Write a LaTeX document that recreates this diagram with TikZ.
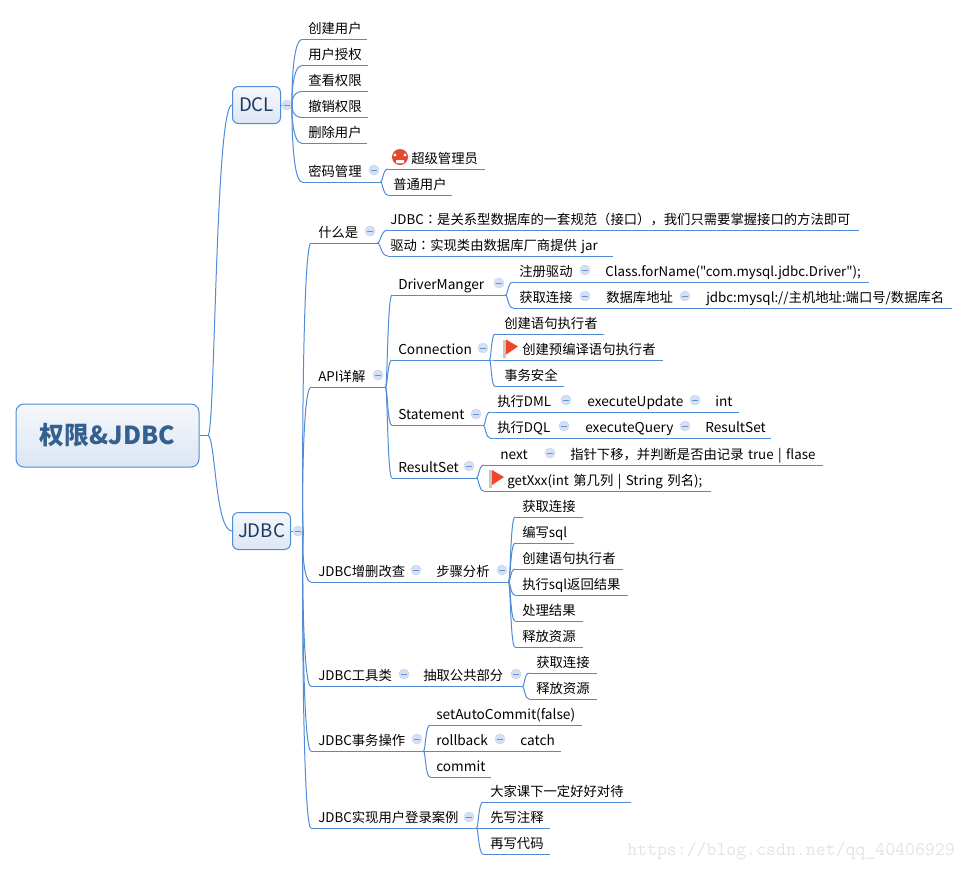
\documentclass[tikz,border=0pt]{standalone}
\usepackage{fontspec}
\setmainfont{Noto Sans CJK SC}
\newfontfamily\tcfont{Noto Sans CJK TC}
\newfontfamily\plainfont{Noto Sans CJK SC}
\usetikzlibrary{positioning, calc}
\newlength{\pxu}
\setlength{\pxu}{0.75pt}
\definecolor{linkblue}{HTML}{4F8BD6}
\definecolor{boxtop}{HTML}{F6F8FC}
\definecolor{boxbot}{HTML}{DCE6F2}
\definecolor{dotfill}{HTML}{D3E0F6}
\definecolor{dotline}{HTML}{6F8FC8}
\definecolor{roottext}{HTML}{34608F}
\definecolor{branchtext}{HTML}{1F3B63}
\definecolor{flagred}{HTML}{F0452B}
\definecolor{angryred}{HTML}{E04A2F}
\definecolor{marktext}{HTML}{E4E4DE}
\tikzset{
  link/.style={draw=linkblue, line width=0.75pt},
  fork/.style={to path={let \p1=(\tikztostart), \p2=(\tikztotarget) in
    .. controls ({\x1*.7+\x2*.3},\y1) and ({\x1*.7+\x2*.3},\y2) .. (\p2)}},
  topic/.style 2 args={anchor=south west, inner sep=0pt, text width=#1\pxu, align=left,
    text height=9pt, text depth=4.2pt, font=\fontsize{10}{12}\selectfont,
    execute at begin node={\hspace*{#2\pxu}},
    append after command={(\tikzlastnode.south west) edge[link] (\tikzlastnode.south east)}},
  latin/.style={font=\fontsize{10.25}{12}\selectfont},
  branch/.style 2 args={draw=linkblue, line width=0.75pt, rounded corners=4.5pt, top color=boxtop,
    bottom color=boxbot, text=#2, minimum width=#1\pxu, minimum height=37\pxu, inner sep=0pt,
    font=\fontsize{14}{16}\selectfont},
  dot/.style={circle, draw=dotfill!85!dotline, fill=dotfill, line width=0.4pt, minimum size=10\pxu,
    inner sep=0pt, path picture={\draw[dotline, line width=0.5pt] ([xshift=-2.2pt]path picture bounding box.center)
      -- ([xshift=2.2pt]path picture bounding box.center);}},
}
\newcommand{\redflag}[2]{%
  \fill[gray!45] (#1,#2-8) rectangle (#1+3,#2+10);
  \fill[flagred] (#1+3,#2-8) -- (#1+15,#2-1) -- (#1+3,#2+7) -- cycle;}
\begin{document}
\begin{tikzpicture}[x=0.75pt, y=-0.75pt]
  \useasboundingbox (0,0) rectangle (967,871);
  % central topic and the two branches
  \node[branch={183}{roottext}, minimum height=63\pxu, rounded corners=6pt,
    font=\fontsize{18.6}{20}\selectfont\bfseries] (root) at (107.5,435.5) {权限\&JDBC};
  \coordinate (f0) at (208,435.5);
  \node[branch={48}{branchtext}] (dcl) at (256.5,105) {DCL};
  \node[branch={58}{branchtext}] (jdbc) at (261.5,531) {JDBC};
  \node[dot] (o0) at (287,105) {};
  \node[dot] (o1) at (298,531) {};
  \path[link] (root) edge (f0)
    (f0) edge[fork] (dcl.west)
    (f0) edge[fork] (jdbc.west)
    (dcl) edge (o0)
    (jdbc) edge (o1);

  % DCL
  \node[topic={64}{6}] (d1) at (302,39.5) {创建用户};
  \node[topic={65}{6}] (d2) at (302,65.5) {用户授权};
  \node[topic={65}{6}] (d3) at (302,91.5) {查看权限};
  \node[topic={65}{6}] (d4) at (302,117.5) {撤销权限};
  \node[topic={64}{6}] (d5) at (302,143.5) {删除用户};
  \node[topic={78}{6}] (d6) at (302,182) {密码管理};
  \node[dot] (o2) at (374,170) {};
  \node[topic={96}{23}] (m1) at (388,169) {超级管理员};
  \node[topic={63}{5}] (m2) at (388,195) {普通用户};
  \fill[angryred] (400,157) circle (8);
  \fill[white] (395,155) circle (1.6) (405,155) circle (1.6) (396,160) rectangle (404,163);
  \path[link] (o0) edge[fork] (d1.south west)
    (o0) edge[fork] (d2.south west)
    (o0) edge[fork] (d3.south west)
    (o0) edge[fork] (d4.south west)
    (o0) edge[fork] (d5.south west)
    (o0) edge[fork] (d6.south west)
    (d6.south east) edge[fork] (m1.south west)
    (d6.south east) edge[fork] (m2.south west);

  % JDBC: what it is
  \node[topic={66}{7}] (w) at (311,243) {什么是};
  \node[dot] (o3) at (370,231) {};
  \node[topic={470}{2}] (w1) at (388,230) {JDBC{\tcfont ：}是关系型数据库的一套规范（接口），我们只需要掌握接口的方法即可};
  \node[topic={224}{2}] (w2) at (388,256) {驱动{\tcfont ：}实现类由数据库厂商提供 jar};
  \path[link] (o1) edge[fork] (w.south west)
    (w.south east) edge[fork] (w1.south west)
    (w.south east) edge[fork] (w2.south west);

  % JDBC: API
  \node[topic={74}{7}] (api) at (311,387) {API详解};
  \node[dot] (o4) at (378,375) {};
  \node[topic={113}{6}, latin] (dm) at (392,295) {DriverManger};
  \node[dot] (o5) at (499,283) {};
  \node[topic={79}{6}] (r1) at (513,282) {注册驱动};
  \node[dot] (o6) at (585,270) {};
  \node[topic={268}{5}] (r1a) at (600,282) {{\plainfont Class.forName("com.mysql.jdbc.Driver");}};
  \node[topic={79}{6}] (r2) at (513,308) {获取连接};
  \node[dot] (o7) at (585,296) {};
  \node[topic={92}{6}] (r2a) at (600,308) {数据库地址};
  \node[dot] (o8) at (685,296) {};
  \node[topic={251}{6}] (r2b) at (700,308) {jdbc:mysql://主机地址:端口号/数据库名};
  \node[topic={97}{6}, latin] (cn) at (392,360) {Connection};
  \node[dot] (o9) at (483,348) {};
  \node[topic={108}{9}] (c1) at (495,334) {创建语句执行者};
  \node[topic={167}{27}] (c2) at (495,360) {创建预编译语句执行者};
  \node[topic={68}{9}] (c3) at (495,386.5) {事务安全};
  \redflag{503}{347.5}
  \node[topic={91}{6}, latin] (st) at (392,425.5) {Statement};
  \node[dot] (o10) at (476,414) {};
  \node[topic={83}{7}] (s1) at (490,412) {执行DML};
  \node[dot] (o11) at (566,400) {};
  \node[topic={122}{7}, latin] (s1a) at (580,412) {executeUpdate};
  \node[dot] (o12) at (695,400) {};
  \node[topic={29}{6}, latin] (s1b) at (709,412) {int};
  \node[topic={81}{7}] (s2) at (490,438) {执行DQL};
  \node[dot] (o13) at (564,426) {};
  \node[topic={114}{7}, latin] (s2a) at (578,438) {executeQuery};
  \node[dot] (o14) at (685,426) {};
  \node[topic={71}{6}, latin] (s2b) at (699,438) {ResultSet};
  \node[topic={84}{6}, latin] (rs) at (392,478) {ResultSet};
  \node[dot] (o15) at (469,466) {};
  \node[topic={73}{16}, latin] (n1) at (484,465) {next};
  \node[dot] (o16) at (550,453) {};
  \node[topic={258}{6}] (n1a) at (564,465) {指针下移，并判断是否由记录 true | flase};
  \node[topic={226}{23}] (n2) at (484,491) {getXxx(int 第几列 | String 列名);};
  \redflag{489}{478}
  \path[link] (o1) edge[fork] (api.south west)
    (api.south east) edge[fork] (dm.south west)
    (api.south east) edge[fork] (cn.south west)
    (api.south east) edge[fork] (st.south west)
    (api.south east) edge[fork] (rs.south west)
    (dm.south east) edge[fork] (r1.south west)
    (dm.south east) edge[fork] (r2.south west)
    (r1.south east) edge (r1a.south west)
    (r2.south east) edge (r2a.south west)
    (r2a.south east) edge (r2b.south west)
    (cn.south east) edge[fork] (c1.south west)
    (cn.south east) edge[fork] (c2.south west)
    (cn.south east) edge[fork] (c3.south west)
    (st.south east) edge[fork] (s1.south west)
    (st.south east) edge[fork] (s2.south west)
    (s1.south east) edge (s1a.south west)
    (s1a.south east) edge (s1b.south west)
    (s2.south east) edge (s2a.south west)
    (s2a.south east) edge (s2b.south west)
    (rs.south east) edge[fork] (n1.south west)
    (rs.south east) edge[fork] (n2.south west)
    (n1.south east) edge (n1a.south west);

  % JDBC: the lower four
  \node[topic={112}{7}] (zs) at (311,582) {JDBC增删改查};
  \node[dot] (o17) at (416,570) {};
  \node[topic={78}{6}] (zs1) at (430,582) {步骤分析};
  \node[dot] (o18) at (502,570) {};
  \node[topic={67}{7}] (h1) at (515,517) {获取连接};
  \node[topic={58}{7}] (h2) at (515,543) {编写sql};
  \node[topic={107}{7}] (h3) at (515,569) {创建语句执行者};
  \node[topic={112}{7}] (h4) at (515,595) {执行sql返回结果};
  \node[topic={67}{7}] (h5) at (515,621) {处理结果};
  \node[topic={67}{7}] (h6) at (515,647) {释放资源};
  \node[topic={98}{7}] (gj) at (311,686.5) {JDBC工具类};
  \node[dot] (o19) at (404,674) {};
  \node[topic={105}{6}] (gj1) at (417,686.5) {抽取公共部分};
  \node[dot] (o20) at (516,674) {};
  \node[topic={67}{7}] (g1) at (529,673) {获取连接};
  \node[topic={67}{7}] (g2) at (529,699) {释放资源};
  \node[topic={112}{7}] (sw) at (311,751) {JDBC事务操作};
  \node[dot] (o21) at (417,739) {};
  \node[topic={151}{6}, latin] (t1) at (430,725) {setAutoCommit(false)};
  \node[topic={77}{6}, latin] (t2) at (430,751) {rollback};
  \node[dot] (o22) at (500,739) {};
  \node[topic={46}{6}, latin] (t2a) at (514,751) {catch};
  \node[topic={60}{6}, latin] (t3) at (430,777) {commit};
  \node[topic={165}{7}] (dl) at (311,828) {JDBC实现用户登录案例};
  \node[dot] (o23) at (469,817) {};
  \node[topic={147}{7}] (l1) at (483,802) {大家课下一定好好对待};
  \node[topic={66}{7}] (l2) at (483,828) {先写注释};
  \node[topic={66}{7}] (l3) at (483,854) {再写代码};
  \path[link] (o1) edge[fork] (zs.south west)
    (zs.south east) edge (zs1.south west)
    (zs1.south east) edge[fork] (h1.south west)
    (zs1.south east) edge[fork] (h2.south west)
    (zs1.south east) edge[fork] (h3.south west)
    (zs1.south east) edge[fork] (h4.south west)
    (zs1.south east) edge[fork] (h5.south west)
    (zs1.south east) edge[fork] (h6.south west)
    (o1) edge[fork] (gj.south west)
    (gj.south east) edge (gj1.south west)
    (gj1.south east) edge[fork] (g1.south west)
    (gj1.south east) edge[fork] (g2.south west)
    (o1) edge[fork] (sw.south west)
    (sw.south east) edge[fork] (t1.south west)
    (sw.south east) edge (t2.south west)
    (sw.south east) edge[fork] (t3.south west)
    (t2.south east) edge (t2a.south west)
    (o1) edge[fork] (dl.south west)
    (dl.south east) edge[fork] (l1.south west)
    (dl.south east) edge (l2.south west)
    (dl.south east) edge[fork] (l3.south west);

  % watermark
  \node[anchor=west, inner sep=0pt, text=marktext, font=\fontsize{14.45}{16}\ttfamily] (mark) at (627,851) {https://blog.csdn.net/qq\_40406929};
\end{tikzpicture}
\end{document}
